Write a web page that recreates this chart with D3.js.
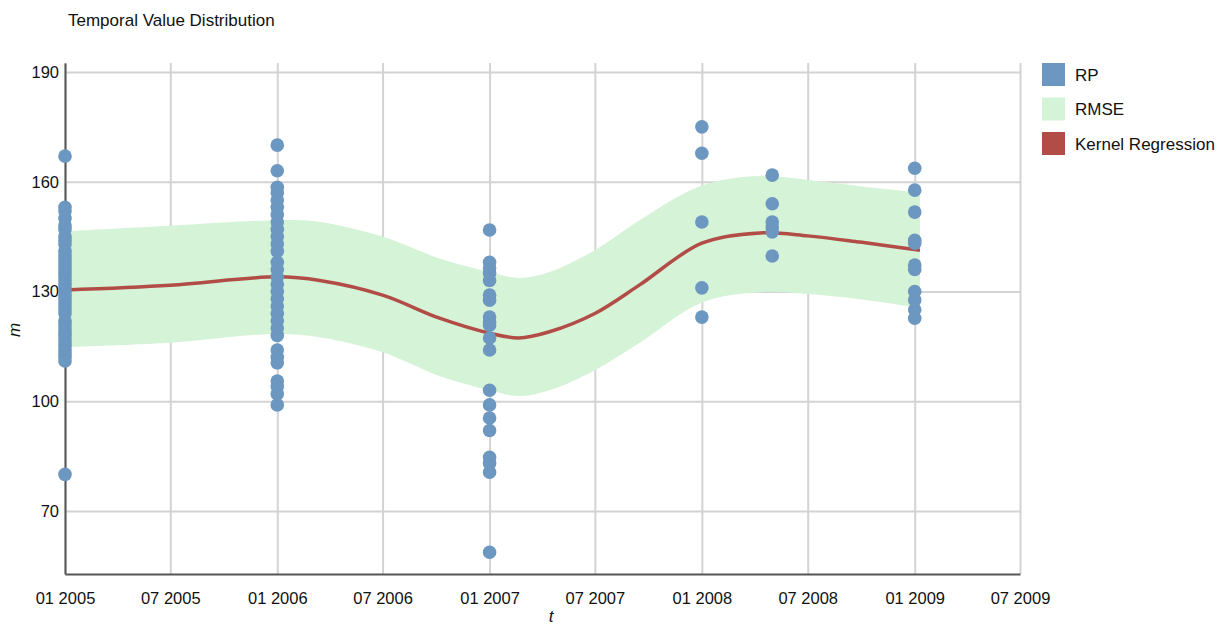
<!DOCTYPE html>
<html>
<head>
<meta charset="utf-8">
<script src="https://cdn.jsdelivr.net/npm/d3@7"></script>
<style>
  body { margin: 0; background: #fff; }
  svg text { font-family: "Liberation Sans", Arial, sans-serif; fill: #111; }
  .grid line { stroke: #d3d3d3; stroke-width: 2; }
  .grid path { display: none; }
  .axis path { stroke: #555; stroke-width: 2; }
  .axis line { display: none; }
  .axis text { font-size: 16.5px; }
</style>
</head>
<body>
<div id="chart"></div>
<script>
// point groups (RP), one date per group
var rpDates = ["2005-01-01", "2006-01-01", "2007-01-01", "2008-01-01", "2008-05-01", "2009-01-01"];
var rpValues = [
  [167, 153, 152, 150, 148, 147, 145, 144, 143, 141, 140, 139, 138, 137, 136, 135, 134, 133, 132,
   131, 130, 129, 128, 127, 126, 125, 124, 122, 121, 120, 119, 118, 117, 116, 115, 114, 113, 112, 111, 80],
  [170, 163, 158.5, 157, 155, 153, 151, 149, 147, 145, 143, 141, 138, 136, 134, 132, 130, 128,
   126, 124, 122, 120, 118, 114, 112, 110.5, 105.5, 104, 102, 99],
  [146.8, 138, 136.4, 135, 133, 129, 127.6, 123, 121.6, 120.8, 117.3, 114, 103, 99, 95.4, 92, 84.7, 83, 80.6, 58.7],
  [175, 167.8, 149, 131, 123],
  [161.8, 154, 149, 147.6, 146.3, 139.7],
  [163.7, 157.7, 151.7, 144, 143.2, 137.2, 136, 130, 127.7, 125, 122.7]
];

// kernel regression and RMSE band
var curveDates = ["2005-01-01", "2005-07-01", "2006-01-01", "2006-03-15", "2006-07-01", "2006-10-07",
                  "2007-01-01", "2007-02-20", "2007-04-14", "2007-07-01", "2007-09-16", "2008-01-01",
                  "2008-04-10", "2008-07-01", "2008-09-29", "2009-01-10"];
var curveValues = [130.4, 131.7, 134, 133, 129, 122.7, 118.6, 117.3, 119, 124, 131.8, 143.2, 146, 145.2, 143.5, 141.3];
var rmseHigh = [146.5, 148, 149.5, 149, 145, 139, 135.3, 133.7, 135.3, 141.3, 149.5, 159, 161.6, 160.5, 158.8, 157];
var rmseLow = [114.8, 116, 118.4, 117.5, 113.4, 106.9, 103, 101.4, 103, 108.5, 116, 127, 129.8, 129.3, 127.9, 125.5];

var yTicks = [70, 100, 130, 160, 190];
var xTicks = ["2005-01-01", "2005-07-01", "2006-01-01", "2006-07-01", "2007-01-01", "2007-07-01",
              "2008-01-01", "2008-07-01", "2009-01-01", "2009-07-01"];

var legendItems = [
  {label: "RP", color: "#6b97c1"},
  {label: "RMSE", color: "#d5f3d6"},
  {label: "Kernel Regression", color: "#b24c47"}
];

var totalW = 1223, totalH = 628;
var margin = {top: 63, right: 203, bottom: 54, left: 65};
var width = totalW - margin.left - margin.right,
    height = totalH - margin.top - margin.bottom;

var parse = d3.timeParse("%Y-%m-%d");

var svg = d3.select("#chart").append("svg")
    .attr("width", totalW)
    .attr("height", totalH);

svg.append("text")
    .attr("x", 68)
    .attr("y", 26)
    .attr("font-size", "17px")
    .text("Temporal Value Distribution");

var g = svg.append("g")
    .attr("transform", "translate(" + margin.left + "," + margin.top + ")");

var xScale = d3.scaleTime()
    .domain([parse("2005-01-01"), parse("2009-07-01")])
    .range([0, width]);
var yScale = d3.scaleLinear()
    .domain([52.77, 192.46])
    .range([height, 0]);

// grids
g.append("g")
    .attr("class", "grid")
    .attr("transform", "translate(0," + height + ")")
    .call(d3.axisBottom(xScale).tickValues(xTicks.map(parse)).tickSize(-height).tickFormat(""));
g.append("g")
    .attr("class", "grid")
    .call(d3.axisLeft(yScale).tickValues(yTicks).tickSize(-width).tickFormat(""));

// RMSE band
var band = curveDates.map(function(d, i) {
  return {date: parse(d), lo: rmseLow[i], hi: rmseHigh[i], v: curveValues[i]};
});

g.append("path")
    .datum(band)
    .attr("fill", "#d5f3d6")
    .attr("d", d3.area()
      .curve(d3.curveCatmullRom)
      .x(function(d) { return xScale(d.date); })
      .y0(function(d) { return yScale(d.lo); })
      .y1(function(d) { return yScale(d.hi); }));

// axes
g.append("g")
    .attr("class", "axis")
    .attr("transform", "translate(0," + height + ")")
    .call(d3.axisBottom(xScale).tickValues(xTicks.map(parse)).tickSize(0).tickPadding(18)
      .tickFormat(d3.timeFormat("%m %Y")));
g.append("g")
    .attr("class", "axis")
    .call(d3.axisLeft(yScale).tickValues(yTicks).tickSize(0).tickPadding(6));

// regression line
g.append("path")
    .datum(band)
    .attr("fill", "none")
    .attr("stroke", "#b24c47")
    .attr("stroke-width", 3.5)
    .attr("d", d3.line()
      .curve(d3.curveCatmullRom)
      .x(function(d) { return xScale(d.date); })
      .y(function(d) { return yScale(d.v); }));

// points
var points = [];
rpDates.forEach(function(d, i) {
  rpValues[i].forEach(function(v) { points.push({date: parse(d), v: v}); });
});

g.append("g")
    .selectAll("circle")
    .data(points)
    .enter()
    .append("circle")
    .attr("cx", function(d) { return xScale(d.date); })
    .attr("cy", function(d) { return yScale(d.v); })
    .attr("r", 6.8)
    .attr("fill", "#6b97c1");

// axis titles
svg.append("text")
    .attr("x", 551)
    .attr("y", 622)
    .attr("text-anchor", "middle")
    .attr("font-size", "17px")
    .attr("font-style", "italic")
    .text("t");
svg.append("text")
    .attr("transform", "translate(20,330) rotate(-90)")
    .attr("text-anchor", "middle")
    .attr("font-size", "17px")
    .attr("font-style", "italic")
    .text("m");

// legend
var legend = svg.append("g")
    .attr("transform", "translate(1042,63)");
var item = legend.selectAll("g")
    .data(legendItems)
    .enter()
    .append("g")
    .attr("transform", function(d, i) { return "translate(0," + (i * 34.5) + ")"; });
item.append("rect")
    .attr("width", 23)
    .attr("height", 23)
    .attr("fill", function(d) { return d.color; });
item.append("text")
    .attr("x", 33)
    .attr("y", 17.5)
    .attr("font-size", "17px")
    .text(function(d) { return d.label; });
</script>
</body>
</html>
